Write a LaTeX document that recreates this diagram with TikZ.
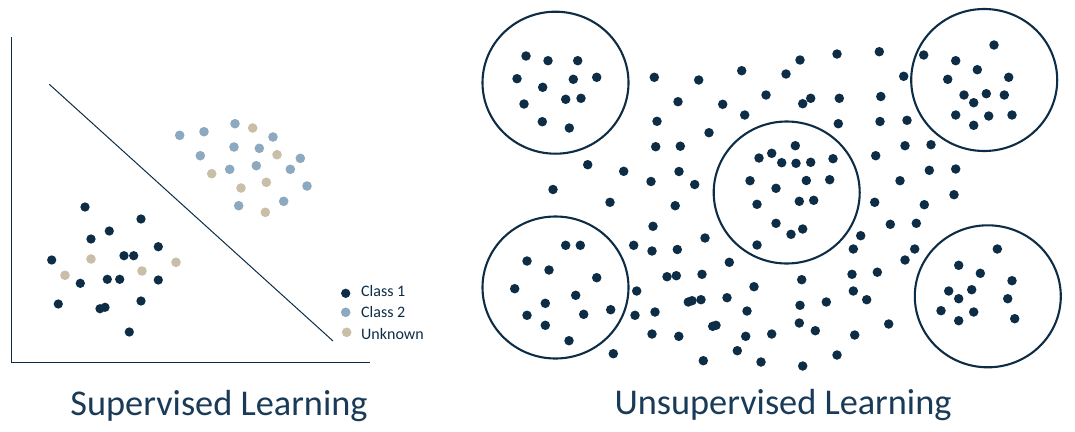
\documentclass[tikz,border=0pt]{standalone}
\usepackage{fontspec}
\setmainfont{Carlito}
\usetikzlibrary{shapes.geometric}
\definecolor{navy}{HTML}{0D2C46}
\definecolor{cltwo}{HTML}{8DA9C0}
\definecolor{unk}{HTML}{C9BFA9}
\definecolor{ttl}{HTML}{1A3B57}
\begin{document}
\begin{tikzpicture}[x=1pt,y=-1pt,
  dotA/.style={circle,fill=navy,inner sep=0,minimum size=9.3pt},
  dotB/.style={circle,fill=cltwo,inner sep=0,minimum size=9.6pt},
  dotU/.style={circle,fill=unk,inner sep=0,minimum size=9.6pt},
  dotR/.style={circle,fill=navy,inner sep=0,minimum size=9.5pt},
  ring/.style={ellipse,draw=navy,line width=2.1pt,inner sep=0,minimum width=146pt,minimum height=142pt},
  axisline/.style={draw=navy,line width=1pt},
  legtext/.style={anchor=base west,inner sep=0,text=navy,font=\fontsize{16}{18}\selectfont},
  title/.style={anchor=base,inner sep=0,text=ttl,font=\fontsize{36.3}{40}\selectfont}]
\useasboundingbox (0,0) rectangle (1075,431);
% axes and separating line
\coordinate (ytop) at (11.7,37);
\coordinate (orig) at (11.7,362);
\coordinate (xend) at (370,362);
\coordinate (d1) at (49.3,84.3);
\coordinate (d2) at (333,341);
\draw[axisline] (ytop) -- (orig) -- (xend);
\draw[axisline] (d1) -- (d2);
% class 1
\foreach \x/\y [count=\i] in {85/207, 141/219, 109.3/231, 91/239, 158.3/246.7, 51.7/260, 124/255.7, 133.7/255.7, 80.3/283.3, 107.3/279.3, 119.7/279.3, 158.3/280, 58.3/304, 100/308.7, 105/307.3, 141/301, 129.3/332}
  \node[dotA] (a\i) at (\x,\y) {};
% class 2
\foreach \x/\y [count=\i] in {179.7/135.3, 204/131.7, 235/123.7, 273/137, 234/147, 259.3/148.3, 200.3/155.7, 300.3/158.3, 229.7/169.3, 256.3/165.7, 290.3/169.3, 307/186, 238.7/205.7, 283.7/201.3}
  \node[dotB] (b\i) at (\x,\y) {};
% unknown
\foreach \x/\y [count=\i] in {91/259, 65/275.3, 142/271, 176/262.3, 252.7/128, 277/154.7, 211.7/173.7, 266.3/182.3, 241/188, 265.3/212.3}
  \node[dotU] (u\i) at (\x,\y) {};
% legend
\node[dotA] (l1) at (345.7,293.3) {};
\node[dotB] (l2) at (345.7,312.3) {};
\node[dotU] (l3) at (346.7,332.3) {};
\node[legtext] (lt1) at (361,296.5) {Class 1};
\node[legtext] (lt2) at (361,317.7) {Class 2};
\node[legtext] (lt3) at (361,339) {Unknown};
% right panel rings
\node[ring] (g1) at (555.5,82.7) {};
\node[ring] (g2) at (984.2,80) {};
\node[ring] (g3) at (786.7,192.5) {};
\node[ring] (g4) at (555.5,287.5) {};
\node[ring] (g5) at (987.8,296.3) {};
% right panel dots
\foreach \x/\y [count=\i] in {
 526/56, 548/60.7, 577.7/60.7, 517/78.7, 573.3/79.3, 596.7/77.3, 542.7/87.3, 565.7/99.3, 581/98.3, 524/104, 542.3/121.7, 569.3/128,
 654.3/77.3, 678/101.7, 657/121.3, 655.7/146.7, 680.3/146.2, 587.7/164.7, 623.7/171.3, 651/181.5, 679/171.5, 553/189.5,
 698.7/80, 741.7/70.7, 786/74, 800/60, 837/54, 879.3/51.7, 722.7/104.3, 766/95, 744.7/115, 802.7/103.7, 810.7/98.3, 839.3/98.3, 880.8/96.5, 838.3/123.7, 880/121.5, 709/132.7, 694.7/184.5,
 795.3/145.7, 771.7/153.3, 759/158, 781.7/162.7, 796/163.3, 810.7/162.3, 833/158.7, 750/180.7, 806.3/180.5, 829.7/179.7, 776/188.3, 875.7/155.7,
 923.7/55, 994/45, 955.7/60.7, 977.3/69.7, 1008.7/77.3, 947.7/79.3, 903.7/76.3, 964/95, 986.3/93.7, 1004.3/95, 973.7/102.7, 955.7/115, 988.7/116, 1012/115, 973.7/125.3, 907/120.3, 905/145.7, 931/144.7, 929.3/170.3, 955.7/169, 900/180.7,
 610/202.3, 675.2/205.7, 653/226.3, 633.7/245.3, 652/251, 677.3/249.5, 667/276.7, 676.3/275.7, 636.7/291, 635/315.3, 655/312, 652/334, 678.8/336.3, 613.3/353.7,
 565.7/245.3, 580.3/245.3, 527/261, 549/270, 596.7/277.7, 514.7/288.7, 575.7/295.3, 545.3/303.3, 583.7/314.3, 610.7/309.7, 527/315.3, 545.3/325.3, 569/340.7,
 757/204.3, 799.3/201.3, 813.7/200.3, 874.7/202.3, 776/223.3, 791/234.3, 802.7/229, 757/245, 705/238, 860.7/235.7, 853.3/249, 729.3/262.3, 702/274.3, 801.7/279.7, 852/274.3, 877.3/272.2, 754/286.7, 853.3/291, 866.7/299.7, 688.3/302, 692/300.7, 701/299.7, 727/297.7, 747/311, 800/305.3, 826.3/302, 799.3/323, 712.7/326.3, 716/325.3, 815.3/330.7, 745.7/336.3, 771.7/334, 854.7/335, 737.3/350.7, 837/355, 703.3/360.7, 761/362, 802.7/366,
 954/194.7, 924.3/204.7, 890.3/224.3, 916.3/223.3, 914.7/249, 905/260, 888.7/324,
 997.3/249, 958.7/265.3, 980.3/273.3, 1012/280.7, 948.7/291, 971.7/289.7, 958.7/298.7, 1007.7/298.7, 941/310.7, 973.7/312, 958.7/320.7, 1014.7/318.7}
  \node[dotR] (r\i) at (\x,\y) {};
% titles
\node[title] (t1) at (219,415.5) {Supervised Learning};
\node[title] (t2) at (783,414.5) {Unsupervised Learning};
\end{tikzpicture}
\end{document}
